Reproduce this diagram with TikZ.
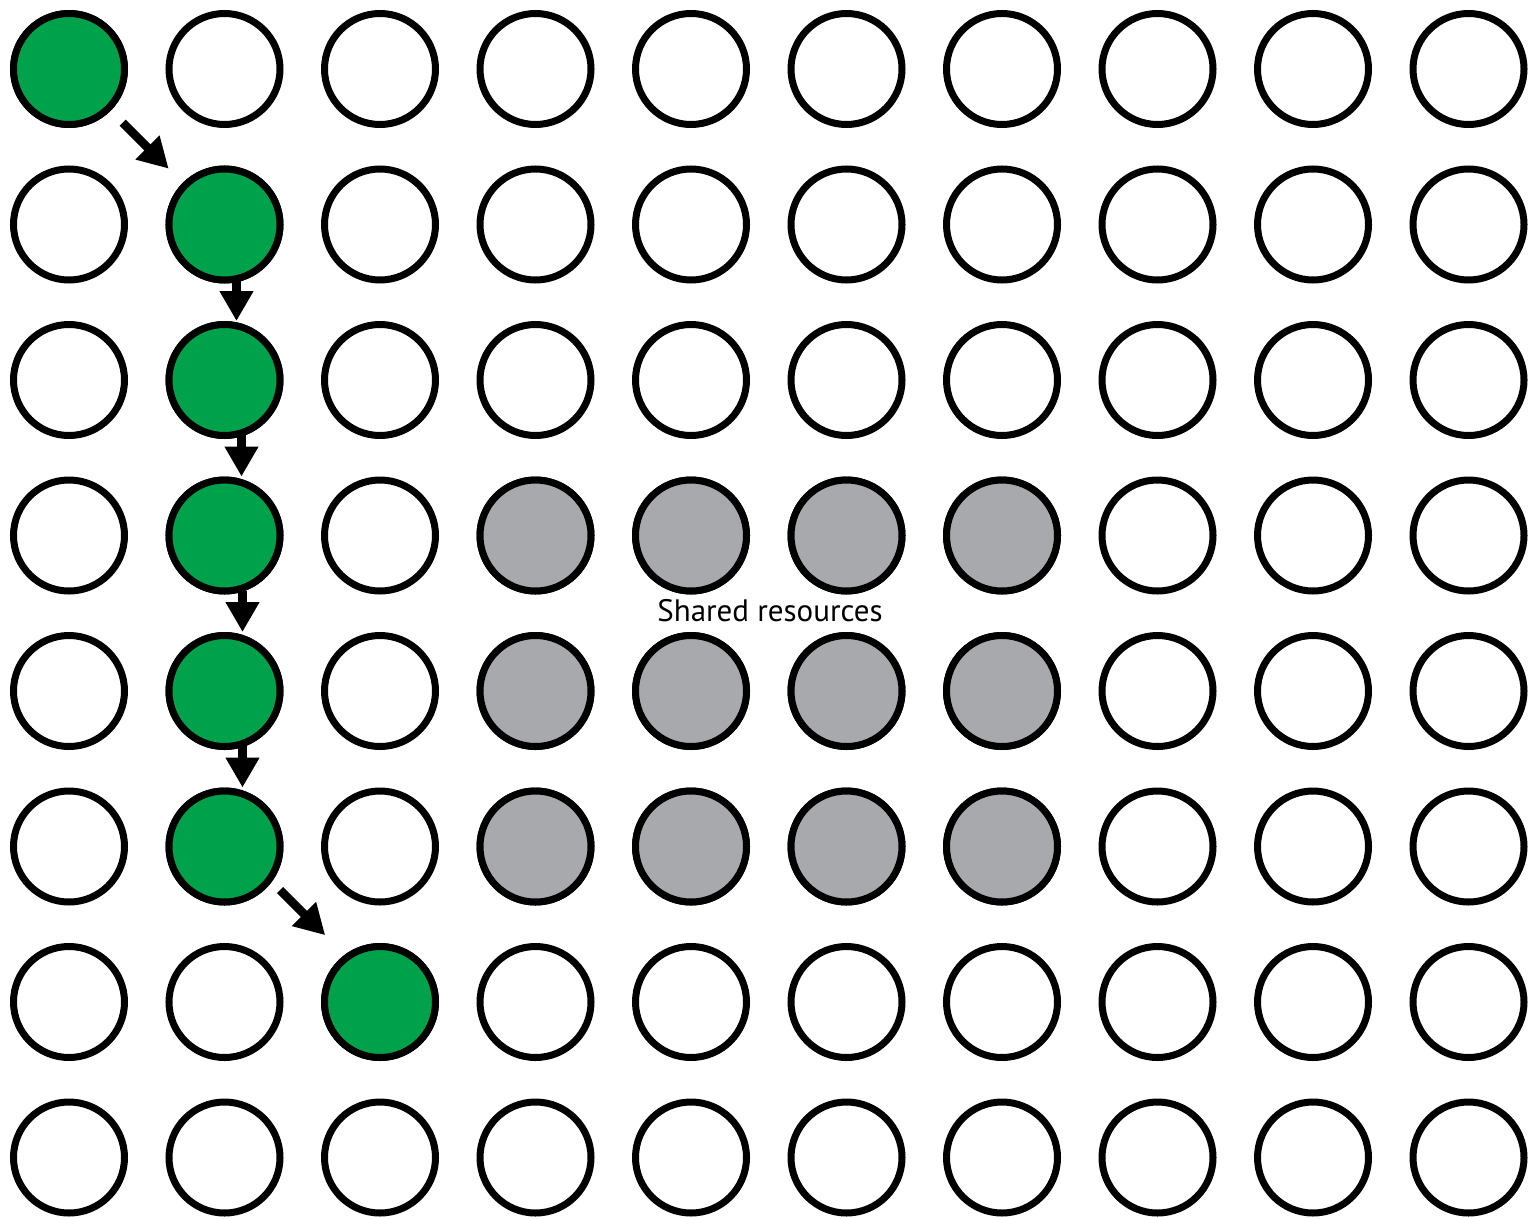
\documentclass[tikz,border=0pt]{standalone}
\usepackage{fontspec}
\setmainfont{PT Sans}
\usetikzlibrary{arrows.meta}
\definecolor{pathgreen}{HTML}{00A14B}
\definecolor{sharedgray}{HTML}{A7A9AC}
\tikzset{
  cell/.style={circle, draw=black, line width=7pt, fill=white, minimum size=111pt, inner sep=0pt},
  visited/.style={cell, fill=pathgreen},
  shared/.style={cell, fill=sharedgray},
  flow/.style={line width=8.5pt, -{Triangle[length=30pt,width=32pt]}},
}
\begin{document}
\begin{tikzpicture}[x=1pt,y=-1pt]
\useasboundingbox (0,0) rectangle (1528,1218);
\foreach \c in {0,...,9}{
  \foreach \r in {0,...,7}{
    \pgfmathsetmacro{\px}{69+155.5*\c}
    \pgfmathsetmacro{\py}{69+155.5*\r}
    \node[cell] (n-\c-\r) at (\px,\py) {};
  }
}
% shared resources
\foreach \c in {3,...,6}{
  \foreach \r in {3,4,5}{
    \node[shared] at (n-\c-\r) {};
  }
}
% path
\node[visited] at (n-0-0) {};
\foreach \r in {1,...,5}{\node[visited] at (n-1-\r) {};}
\node[visited] at (n-2-6) {};

\draw[flow, shorten <=17pt, shorten >=20pt] (n-0-0.south east) -- (n-1-1.north west);
\draw[flow, shorten <=-4pt] ([xshift=12pt]n-1-1.south) -- ([xshift=12pt]n-1-2.north);
\draw[flow, shorten <=-4pt] ([xshift=17pt]n-1-2.south) -- ([xshift=17pt]n-1-3.north);
\draw[flow, shorten <=-4pt] ([xshift=18pt]n-1-3.south) -- ([xshift=18pt]n-1-4.north);
\draw[flow, shorten <=-4pt] ([xshift=18pt]n-1-4.south) -- ([xshift=18pt]n-1-5.north);
\draw[flow, shorten <=11pt, shorten >=27pt] ([xshift=6pt,yshift=6pt]n-1-5.south east) -- ([xshift=6pt,yshift=6pt]n-2-6.north west);

\node[font=\fontsize{31}{36}\selectfont, inner sep=0pt] (label) at (770,611) {Shared resources};
\end{tikzpicture}
\end{document}
